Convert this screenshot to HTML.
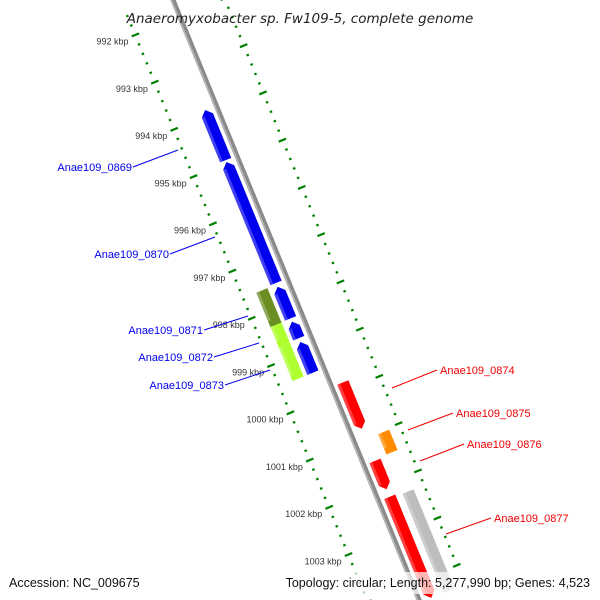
<!DOCTYPE html>
<html><head><meta charset="utf-8">
<style>
html,body{margin:0;padding:0;background:#fff;overflow:hidden;width:600px;height:600px;}
svg{display:block;font-family:"Liberation Sans","DejaVu Sans",sans-serif;overflow:hidden;}
</style></head>
<body>
<svg id="map" width="600" height="600" viewBox="0 0 600 600" xmlns="http://www.w3.org/2000/svg">
<defs><clipPath id="cp"><rect x="0" y="0" width="600" height="600"/></clipPath></defs>
<rect width="600" height="600" fill="#fff"/>
<g clip-path="url(#cp)"><g id="band" transform="translate(173,0) rotate(-22.3)"></g></g>
<g id="labels"></g>
<text x="300" y="23" text-anchor="middle" font-size="13.5" font-style="italic" fill="#222" font-family="DejaVu Sans, sans-serif">Anaeromyxobacter sp. Fw109-5, complete genome</text>
<rect x="0" y="572" width="600" height="22" fill="#fff" fill-opacity="0.7"/>
<text x="9" y="587" font-size="12.5" fill="#111">Accession: NC_009675</text>
<text x="590" y="587" text-anchor="end" font-size="12.5" fill="#111">Topology: circular; Length: 5,277,990 bp; Genes: 4,523</text>
</svg>
<script>
const geneNames = ["Anae109_0869","Anae109_0870","Anae109_0871","Anae109_0872","Anae109_0873","olive-gene","lime-gene-1","lime-gene-2","Anae109_0874","Anae109_0875","Anae109_0876","red-gene-4","gray-gene"];
const geneStarts = [993.88,994.98,997.62,998.36,998.79,997.57,998.30,998.73,999.84,1001.04,1001.50,1002.26,1002.30];
const geneEnds   = [994.94,997.54,998.29,998.71,999.44,998.30,998.73,999.44,1000.82,1001.47,1002.10,1004.40,1004.40];
const geneStrand = [-1,-1,-1,-1,-1,0,0,0,1,0,1,1,0];
const geneRing   = [-12,-12,-12,-12,-12,-28,-28,-28,12,31,12,12,31];
const geneColors = ["#0000ee","#0000ee","#0000ee","#0000ee","#0000ee","#6b8e23","#adff2f","#adff2f","#ff0000","#ff8c00","#ff0000","#ff0000","#bdbdbd"];
const tickStartKbp = 991.6, tickEndKbp = 1004.0;
const kbpLabels = [992,993,994,995,996,997,998,999,1000,1001,1002,1003];
const labelTexts = ["Anae109_0869","Anae109_0870","Anae109_0871","Anae109_0872","Anae109_0873","Anae109_0874","Anae109_0875","Anae109_0876","Anae109_0877"];
const labelSide = [-1,-1,-1,-1,-1,1,1,1,1];
const labelLines = [[178,150,133,167],[215,237,170,254],[248,316,204,330],[259,343,214,357],[270,370,225,385],[392,388,437,370],[408,430,453,413],[420,461,464,444],[446,534,491,518]];

const NS="http://www.w3.org/2000/svg";
const band=document.getElementById('band'), labs=document.getElementById('labels');
const ANG=-22.3*Math.PI/180, OX=173, OY=0;
function uOf(k){return 18+(k-992)*51.06;}
function toPage(v,u){return [OX+v*Math.cos(ANG)-u*Math.sin(ANG), OY+v*Math.sin(ANG)+u*Math.cos(ANG)];}
function mk(tag,attrs,parent){const e=document.createElementNS(NS,tag);for(const k in attrs)e.setAttribute(k,attrs[k]);parent.appendChild(e);return e;}

let bb=mk('line',{x1:0,y1:-60,x2:0,y2:660,stroke:'#8a8a8a','stroke-width':5},band);


mk('line',{x1:-1.5,y1:-60,x2:-1.5,y2:660,stroke:'#b8b8b8','stroke-width':1.5},band);

const steps=Math.round((tickEndKbp-tickStartKbp)/0.2);
for(let i=0;i<=steps;i++){
  const k=tickStartKbp+i*0.2, u=uOf(k);
  const major=Math.abs(k-Math.round(k))<0.01;
  [-1,1].forEach(side=>{
    const a=major?44:47, b=major?52:49.5;
    const t=mk('line',{x1:side*a,y1:u,x2:side*b,y2:u,stroke:'#008000','stroke-width':2.2},band);
    
    
  });
}
kbpLabels.forEach(k=>{
  const p=toPage(-50,uOf(k));
  const t=mk('text',{x:p[0]-5,y:p[1]+9,'text-anchor':'end','font-size':9,fill:'#333'},labs);
  t.textContent=k+' kbp';
  
  
});

const HW=6, AH=6;
for(let i=0;i<geneNames.length;i++){
  const u0=uOf(geneStarts[i]), u1=uOf(geneEnds[i]), c=geneRing[i], v0=c-HW, v1=c+HW;
  let pts;
  if(geneStrand[i]<0) pts=[[v0,u0+AH],[c,u0],[v1,u0+AH],[v1,u1],[v0,u1]];
  else if(geneStrand[i]>0) pts=[[v0,u0],[v1,u0],[v1,u1-AH],[c,u1],[v0,u1-AH]];
  else pts=[[v0,u0],[v1,u0],[v1,u1],[v0,u1]];
  const g=mk('polygon',{points:pts.map(p=>p.join(',')).join(' '),fill:geneColors[i]},band);
  
  
  mk('rect',{x:v0,y:u0+(geneStrand[i]<0?AH:0),width:3,height:Math.max(0,u1-u0-AH),fill:'#fff','fill-opacity':0.25},band);
}

labelTexts.forEach((txt,j)=>{
  const L=labelLines[j], left=labelSide[j]<0;
  const col=left?'#0000ee':'#ee0000';
  const ln=mk('line',{x1:L[0],y1:L[1],x2:L[2],y2:L[3],stroke:col,'stroke-width':1},labs);
  
  
  const t=mk('text',{x:left?L[2]-1:L[2]+3,y:L[3]+4,'text-anchor':left?'end':'start','font-size':11,fill:col},labs);
  t.textContent=txt;
  
  
});
</script>
</body></html>
